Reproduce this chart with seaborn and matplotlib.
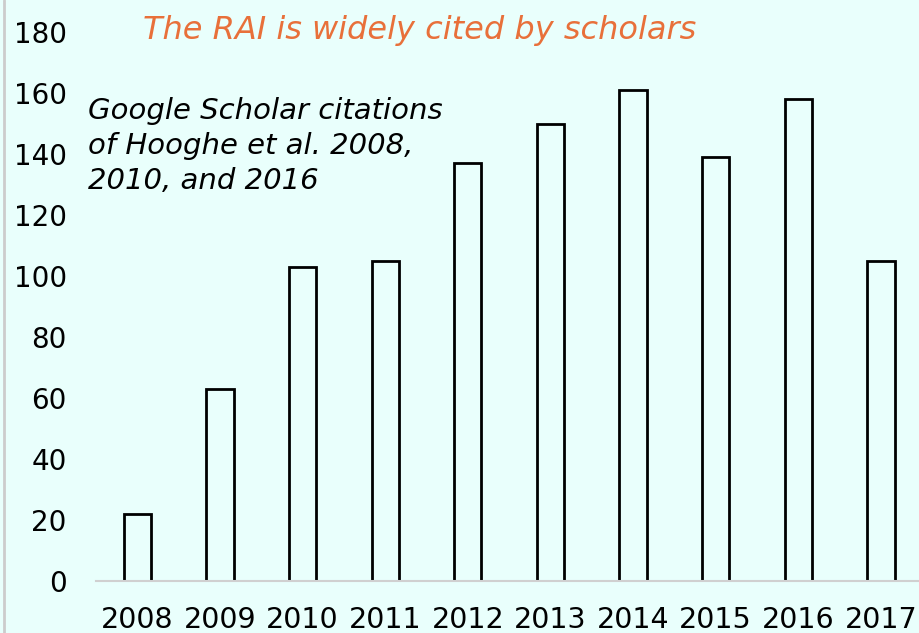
import matplotlib
matplotlib.use('Agg')

import pandas as pd
import matplotlib.pyplot as plt
import seaborn as sns
from matplotlib.lines import Line2D

# citations per year
years = ['2008', '2009', '2010', '2011', '2012', '2013', '2014', '2015', '2016', '2017']
citations = [22, 63, 103, 105, 137, 150, 161, 139, 158, 105]
yticks = [0, 20, 40, 60, 80, 100, 120, 140, 160, 180]

title = 'The RAI is widely cited by scholars'
note = 'Google Scholar citations\nof Hooghe et al. 2008,\n2010, and 2016'

bg = '#E9FFFC'
orange = '#E8703A'

sns.set_theme(style='white')
plt.rcParams['font.family'] = ['DejaVu Sans']

df = pd.DataFrame({'year': years, 'citations': citations})

fig = plt.figure(figsize=(9.19, 6.33), dpi=100)
fig.set_facecolor(bg)
ax = fig.add_axes([0.1045, 0.0821, 0.899, 0.8673])
ax.set_facecolor(bg)

sns.barplot(data=df, x='year', y='citations', color=bg, width=0.33,
            edgecolor='black', linewidth=2, saturation=1, ax=ax)

ax.set_ylim(0, 180)
ax.set_xlim(-0.5, 9.5)
ax.set_yticks(yticks)
ax.set_xlabel('')
ax.set_ylabel('')
ax.tick_params(axis='y', labelsize=20, colors='black', pad=21, length=0)
ax.tick_params(axis='x', labelsize=20.5, colors='black', pad=18, length=0)

for side in ['top', 'right', 'left']:
    ax.spines[side].set_visible(False)
ax.spines['bottom'].set_color('#D0D0D0')
ax.spines['bottom'].set_linewidth(1.5)

fig.text(0.457, 0.952, title, color=orange, fontsize=23, fontstyle='italic',
         ha='center', va='center')
fig.text(0.096, 0.847, note, color='black', fontsize=21, fontstyle='italic',
         ha='left', va='top', linespacing=1.33)

# thin grey frame edge on the left
fig.add_artist(Line2D([0.004, 0.004], [0, 1], transform=fig.transFigure,
                      color='#CCCCCC', linewidth=2))

plt.savefig('out.png', dpi=100, facecolor=bg)
